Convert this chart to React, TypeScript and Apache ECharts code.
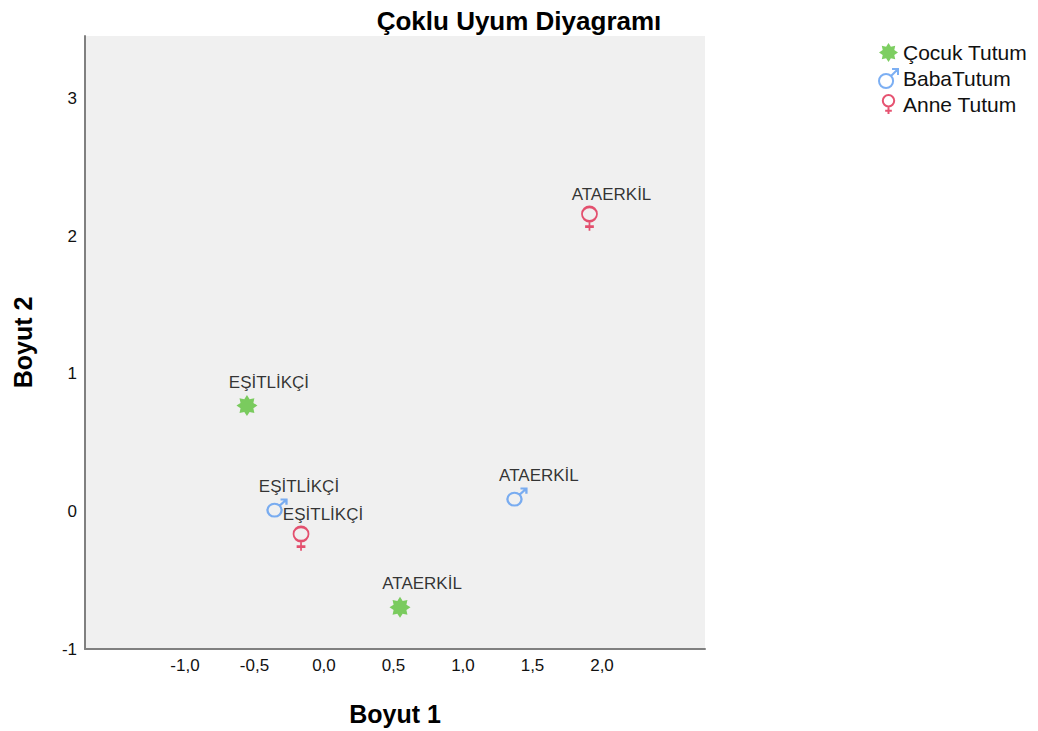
import React, { useEffect, useRef } from "react";
import * as echarts from "echarts";

const categories = ["EŞİTLİKÇİ", "ATAERKİL"];
const seriesNames = ["Çocuk Tutum", "BabaTutum", "Anne Tutum"];
const cocukX = [-0.554, 0.547];
const cocukY = [0.769, -0.697];
const babaX = [-0.338, 1.388];
const babaY = [0.025, 0.105];
const anneX = [-0.165, 1.91];
const anneY = [-0.199, 2.126];
const xTicks = [-1, -0.5, 0, 0.5, 1, 1.5, 2];
const yTicks = [-1, 0, 1, 2, 3];

const FONT = "'Liberation Sans', Arial, sans-serif";

function starPath(): string {
  const pts: string[] = [];
  const n = 8;
  for (let i = 0; i < n * 2; i++) {
    const r = i % 2 === 0 ? 10 : 6.6;
    const a = (Math.PI / n) * i - Math.PI / 2;
    pts.push((i === 0 ? "M" : "L") + (10 + r * Math.cos(a)).toFixed(2) + " " + (10 + r * Math.sin(a)).toFixed(2));
  }
  return "path://" + pts.join(" ") + " Z";
}
const STAR = starPath();
const MALE = "path://M13.5 13.5 A6.5 6.5 0 1 1 0.5 13.5 A6.5 6.5 0 1 1 13.5 13.5 Z M11.6 8.9 L18 2.5 M12.5 2.5 L18 2.5 L18 8";
const FEMALE = "path://M14 7 A6 6 0 1 1 2 7 A6 6 0 1 1 14 7 Z M8 13 L8 21 M4.5 17.5 L11.5 17.5";

function pts(xs: number[], ys: number[]) {
  return xs.map((x, i) => ({ value: [x, ys[i]], name: categories[i] }));
}

export default function App() {
  const ref = useRef<HTMLDivElement>(null);
  useEffect(() => {
    document.body.style.margin = "0";
    const chart = echarts.init(ref.current!, undefined, { renderer: "svg" });
    const label = (dy: number) => ({
      show: true,
      position: "inside",
      offset: [22, dy],
      formatter: (p: any) => p.name,
      color: "#000000",
      textBorderWidth: 0,
      fontSize: 17,
      fontFamily: FONT,
    });
    chart.setOption({
      animation: false,
      backgroundColor: "#ffffff",
      textStyle: { fontFamily: FONT },
      title: {
        text: "Çoklu Uyum Diyagramı",
        left: "center",
        top: 3,
        textStyle: { fontSize: 26, fontWeight: "bold", color: "#000000", fontFamily: FONT },
      },
      legend: {
        orient: "vertical",
        left: 873,
        top: 37,
        itemWidth: 19,
        itemHeight: 19,
        itemGap: 5,
        textStyle: { fontSize: 21, color: "#111111", fontFamily: FONT },
        data: seriesNames,
      },
      grid: { left: 85, top: 36, width: 620, height: 617, backgroundColor: "#f0f0f0", show: true, borderWidth: 0 },
      xAxis: {
        type: "value",
        min: -1.719,
        max: 2.741,
        name: "Boyut 1",
        nameLocation: "middle",
        nameGap: 52,
        nameTextStyle: { fontSize: 25, fontWeight: "bold", color: "#000000", fontFamily: FONT },
        axisLine: { show: true, onZero: false, lineStyle: { color: "#808080", width: 2 } },
        axisTick: { show: false },
        splitLine: { show: false },
        axisLabel: {
          customValues: xTicks,
          margin: 8,
          fontSize: 17,
          color: "#111111",
          fontFamily: FONT,
          formatter: (v: number) => v.toFixed(1).replace(".", ","),
        },
      },
      yAxis: {
        type: "value",
        min: -1,
        max: 3.455,
        name: "Boyut 2",
        nameLocation: "middle",
        nameGap: 50,
        nameTextStyle: { fontSize: 25, fontWeight: "bold", color: "#000000", fontFamily: FONT },
        axisLine: { show: true, onZero: false, lineStyle: { color: "#808080", width: 2 } },
        axisTick: { show: false },
        splitLine: { show: false },
        axisLabel: {
          customValues: yTicks,
          margin: 8,
          fontSize: 17,
          color: "#111111",
          fontFamily: FONT,
          formatter: (v: number) => String(Math.round(v)),
        },
      },
      series: [
        {
          name: seriesNames[0],
          type: "scatter",
          symbol: STAR,
          symbolSize: 21,
          itemStyle: { color: "#5cc23a" },
          label: label(-23.5),
          data: pts(cocukX, cocukY),
        },
        {
          name: seriesNames[1],
          type: "scatter",
          symbol: MALE,
          symbolSize: [19, 17],
          itemStyle: { color: "rgba(0,0,0,0)", borderColor: "#5b9bf0", borderWidth: 2.2 },
          label: label(-21),
          data: pts(babaX, babaY),
        },
        {
          name: seriesNames[2],
          type: "scatter",
          symbol: FEMALE,
          symbolSize: [15, 24],
          itemStyle: { color: "rgba(0,0,0,0)", borderColor: "#e0284e", borderWidth: 2.2 },
          label: label(-24),
          data: pts(anneX, anneY),
        },
      ],
    });
    return () => chart.dispose();
  }, []);
  return <div ref={ref} style={{ width: 1038, height: 731 }} />;
}
